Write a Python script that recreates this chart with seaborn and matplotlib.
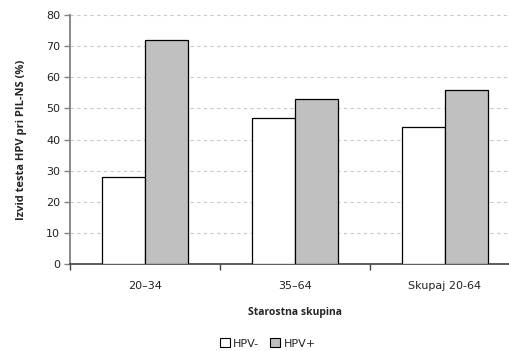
import numpy as np
import pandas as pd
import matplotlib
matplotlib.use("Agg")
import matplotlib.pyplot as plt
import seaborn as sns

# podatki
skupine = ["20–34", "35–64", "Skupaj 20-64"]
hpv_neg = [28, 47, 44]
hpv_pos = [72, 53, 56]
serije = ["HPV-", "HPV+"]

df = pd.DataFrame({
    "skupina": skupine * 2,
    "vrednost": hpv_neg + hpv_pos,
    "izvid": [serije[0]] * len(skupine) + [serije[1]] * len(skupine),
})

sns.set_style("white")
plt.rcParams['font.family'] = ['DejaVu Sans']
plt.rcParams['ytick.left'] = True
plt.rcParams['xtick.bottom'] = True

fig = plt.figure(figsize=(5.10, 3.51), dpi=100)
ax = fig.add_axes([70 / 510, 1 - 264 / 351, 450 / 510, 249 / 351])

sns.barplot(data=df, x="skupina", y="vrednost", hue="izvid",
            palette=["white", "#c0c0c0"], edgecolor="black", linewidth=0.9,
            width=0.57, ax=ax, legend=False, zorder=3)

ax.set_ylim(0, 80)
ax.set_xlim(-0.5, 2.5)
ax.set_yticks(np.arange(0, 81, 10))
ax.yaxis.grid(True, linestyle=(0, (3, 3)), color="#c8c8c8", linewidth=0.8, zorder=0)
ax.set_axisbelow(True)

for s in ["top", "right"]:
    ax.spines[s].set_visible(False)
ax.spines["left"].set_color("#808080")
ax.spines["left"].set_linewidth(1.3)
ax.spines["bottom"].set_color("#404040")
ax.spines["bottom"].set_linewidth(1.2)

ax.set_xticks([-0.5, 0.5, 1.5, 2.5], minor=True)
ax.tick_params(axis="x", which="major", bottom=False, length=0, pad=12, labelsize=8, colors="#222222")
ax.tick_params(axis="x", which="minor", bottom=True, length=4, width=1, direction="out", color="#404040")
ax.tick_params(axis="y", which="major", left=True, length=4, width=1, direction="out",
               color="#808080", labelsize=8, labelcolor="#222222", pad=3)

ax.set_xlabel("Starostna skupina", fontsize=7.5, fontweight="bold", family="Open Sans", labelpad=12)
ax.set_ylabel("Izvid testa HPV pri PIL-NS (%)", fontsize=8, fontweight="bold",
              family="Open Sans", labelpad=14)

handles = [plt.Rectangle((0, 0), 1, 1, facecolor=c, edgecolor="black", linewidth=0.8)
           for c in ["white", "#c0c0c0"]]
fig.legend(handles, serije, loc="lower center", bbox_to_anchor=(0.525, -0.022), ncol=2,
           frameon=False, fontsize=8, handlelength=0.9, handleheight=0.9,
           handletextpad=0.3, columnspacing=1.0)

fig.savefig("out.png", dpi=100)
